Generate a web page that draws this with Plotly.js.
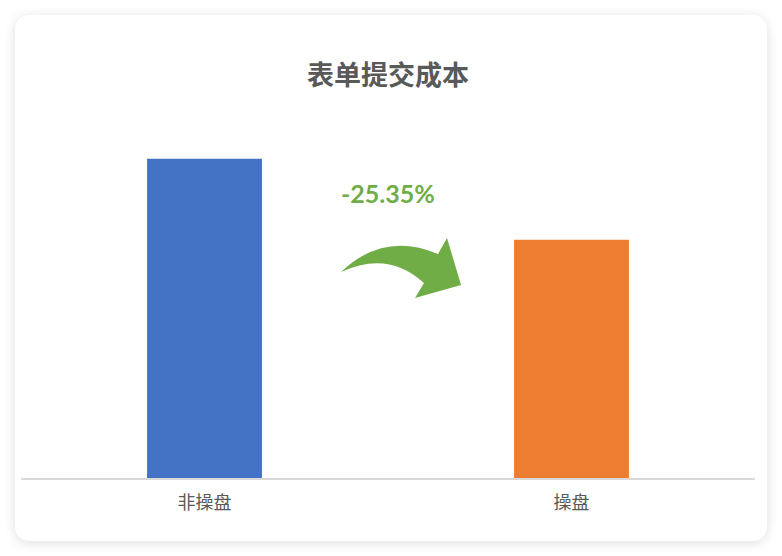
<!DOCTYPE html>
<html>
<head>
<meta charset="utf-8">
<script src="https://cdn.plot.ly/plotly-3.0.1.min.js"></script>
<style>
    html, body { margin: 0; padding: 0; background: #ffffff; }
    #card {
        position: absolute; left: 15px; top: 15px; width: 752px; height: 526px;
        background: #fff; border-radius: 14px;
        box-shadow: 0 2px 12px rgba(0, 0, 0, 0.13);
    }
    #plot { position: absolute; left: 0; top: 0; width: 782px; height: 556px; }
</style>
</head>
<body>
<div id="card"></div>
<div id="plot"></div>
<script>
let categories = ['非操盘', '操盘'];
let values = [100, 74.65];
let barColours = ['#4472C4', '#ED7D31'];
let changeLabel = '-25.35%';

// plot box in pixels, used to place the arrow decoration
let W = 782, H = 556;
let box = {l: 21, r: 27, t: 79, b: 78};

function toPaper(px, py) {
    let x = (px - box.l) / (W - box.l - box.r);
    let y = (H - box.b - py) / (H - box.t - box.b);
    return x.toFixed(4) + ',' + y.toFixed(4);
}

let arrowPath = 'M ' + toPaper(341, 272) +
    ' Q ' + toPaper(384, 231) + ' ' + toPaper(438, 254) +
    ' L ' + toPaper(447, 238) +
    ' L ' + toPaper(461, 285) +
    ' L ' + toPaper(415, 298) +
    ' L ' + toPaper(424, 283) +
    ' Q ' + toPaper(388, 250) + ' ' + toPaper(341, 272) + ' Z';

let data = [{
    x: categories,
    y: values,
    type: 'bar',
    width: 0.313,
    marker: {color: barColours},
    hoverinfo: 'x+y'
}];

let layout = {
    width: W,
    height: H,
    paper_bgcolor: 'rgba(0,0,0,0)',
    plot_bgcolor: 'rgba(0,0,0,0)',
    margin: {l: box.l, r: box.r, t: box.t, b: box.b, pad: 0},
    showlegend: false,
    font: {family: '"Noto Sans CJK SC", "Noto Sans", sans-serif', color: '#595959'},
    title: {
        text: '<b>表单提交成本</b>',
        font: {size: 27, color: '#595959'},
        xref: 'paper',
        x: 0.5,
        yref: 'container',
        y: 1 - 76 / H,
        yanchor: 'middle'
    },
    xaxis: {
        type: 'category',
        range: [-0.5, 1.5],
        showgrid: false,
        zeroline: false,
        showline: true,
        linecolor: '#d9d9d9',
        linewidth: 1.5,
        ticks: '',
        ticklabelstandoff: 8,
        tickfont: {size: 18, color: '#595959'}
    },
    yaxis: {
        range: [0, 125],
        showgrid: false,
        zeroline: false,
        showline: false,
        showticklabels: false,
        ticks: ''
    },
    shapes: [{
        type: 'path',
        xref: 'paper',
        yref: 'paper',
        path: arrowPath,
        fillcolor: '#70AD47',
        line: {width: 0}
    }],
    annotations: [{
        text: '<b>' + changeLabel + '</b>',
        xref: 'paper',
        yref: 'paper',
        x: 0.5,
        y: (H - box.b - 193) / (H - box.t - box.b),
        xanchor: 'center',
        yanchor: 'middle',
        showarrow: false,
        font: {family: 'Lato, "Open Sans", sans-serif', size: 25, color: '#70AD47'}
    }]
};

Plotly.newPlot('plot', data, layout, {displayModeBar: false, staticPlot: true});
</script>
</body>
</html>
